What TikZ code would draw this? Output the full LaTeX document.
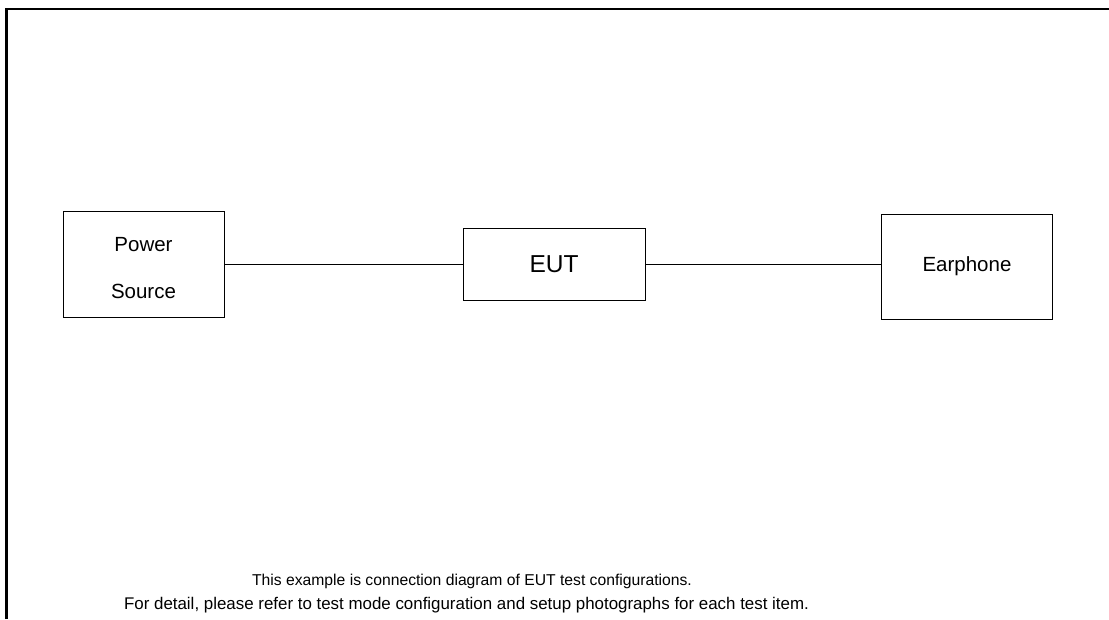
\documentclass[tikz,border=0pt]{standalone}
\usepackage{fontspec}
\setmainfont{Liberation Sans}
\tikzset{
  unit/.style={draw, line width=1pt, align=center, font=\fontsize{20.5}{24.6}\selectfont},
  frameline/.style={line width=2.2pt},
  caption/.style={font=\fontsize{16.9}{20}\selectfont}
}
\begin{document}
\begin{tikzpicture}[x=1pt,y=-1pt]

\useasboundingbox (0,0) rectangle (1109,619);

\draw[frameline] (6.5,619) -- (6.5,9) -- (1109,9);

\node[unit, minimum width=161pt, minimum height=106pt] (ps) at (143.5,264) {\raisebox{-6.5pt}[\height][\depth]{\begin{tabular}{@{}c@{}}Power\\[22.4pt]Source\end{tabular}}};

\node[unit, minimum width=182pt, minimum height=72pt, font=\fontsize{24.5}{29}\selectfont] (eut) at (554,264) {EUT};

\node[unit, minimum width=171pt, minimum height=105pt] (ear) at (967,266.5) {Earphone};

\draw[line width=1pt] (ps.east) -- (eut.west);
\draw[line width=1pt] (eut.east) -- (ear.west |- eut.east);

\node[caption, font=\fontsize{15.7}{19}\selectfont] (note1) at (472,581.5) {This example is connection diagram of EUT test configurations.};
\node[caption] (note2) at (466.5,605.5) {For detail, please refer to test mode configuration and setup photographs for each test item.};
\end{tikzpicture}
\end{document}
